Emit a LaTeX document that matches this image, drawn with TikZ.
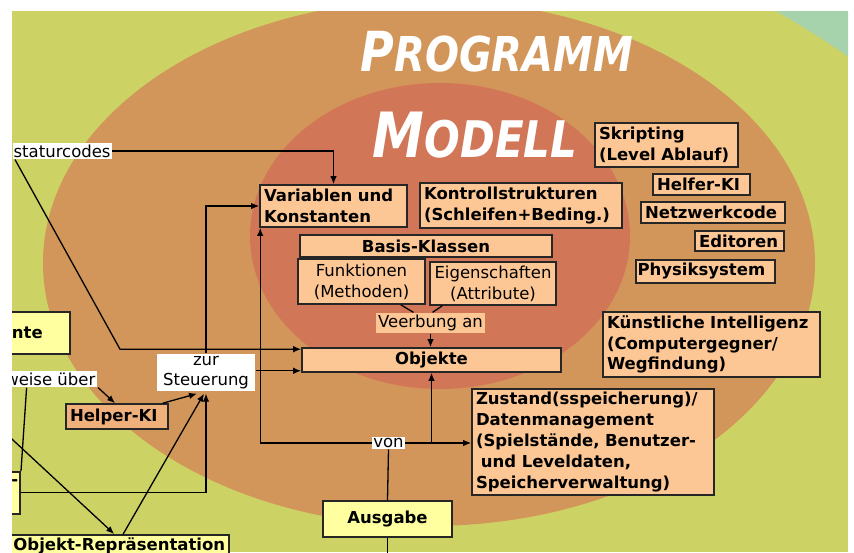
\documentclass[tikz,border=0pt]{standalone}
\usepackage{fontspec}
\setmainfont{DejaVu Sans}
\usetikzlibrary{arrows.meta}

\definecolor{wiese}{HTML}{CDD264}
\definecolor{tuerkis}{HTML}{A6D2AC}
\definecolor{programm}{HTML}{D3965A}
\definecolor{modell}{HTML}{D27658}
\definecolor{pfirsich}{HTML}{FCC795}
\definecolor{gelb}{HTML}{FFFFA0}
\definecolor{helper}{HTML}{F0B07C}

\begin{document}
\begin{tikzpicture}[->,>={Latex[length=8pt,width=6.5pt]},x=1pt,y=-1pt,line width=1.3pt]
    \tikzstyle{every node}=[font=\fontsize{16.5}{20.8}\selectfont]
    \tikzstyle{kasten}=[draw=black!85, line width=1.6pt, fill=pfirsich, font=\fontsize{16.5}{20.8}\selectfont\bfseries, align=left, inner xsep=4pt, inner ysep=2pt]
    \tikzstyle{klasse}=[kasten, font=\fontsize{16.5}{20.8}\selectfont, align=center]
    \tikzstyle{extern}=[kasten, fill=gelb]
    \tikzstyle{notiz}=[fill=white, inner xsep=2pt, inner ysep=1.5pt]
    \tikzstyle{titel}=[text=white, font=\bfseries\itshape]
    %\draw[help lines] (0,0) grid[step=50] (854,552);
    \useasboundingbox (0,0) rectangle (854,552);
    \fill[white] (0,0) rectangle (854,552);
    \begin{scope}
    \clip (12,11) rectangle (848,552);
    \fill[wiese] (12,11) rectangle (848,552);
    \fill[tuerkis] (776,11) .. controls (805,28) and (828,42) .. (850,58) -- (850,0) -- cycle;
    \fill[programm] (429,263) ellipse [x radius=386, y radius=263];
    \fill[modell] (440,236) ellipse [x radius=190, y radius=153];

    \node[titel] (prog) at (497,52) {\scalebox{1}[1.2]{\fontsize{46}{46}\selectfont P\fontsize{40}{40}\selectfont ROGRAMM}};
    \node[titel] (mod) at (475,135) {\scalebox{1}[1.2]{\fontsize{52}{52}\selectfont M\fontsize{42}{42}\selectfont ODELL}};

    % Modell
    \node[kasten, text width=139pt, minimum height=42pt] (var) at (333.5,206) {Variablen und\\Konstanten};
    \node[kasten, text width=194pt, minimum height=45pt] (kontr) at (521,205.5) {Kontrollstrukturen\\(Schleifen+Beding.)};
    \node[kasten, align=center, text width=244pt, minimum height=22pt] (basis) at (426,246) {Basis-Klassen};
    \node[klasse, text width=119pt, minimum height=45pt] (funk) at (361.5,281.5) {Funktionen\\(Methoden)};
    \node[klasse, text width=120pt, inner xsep=3pt, minimum height=43pt] (eig) at (493,283.5) {Eigenschaften\\(Attribute)};
    \node[fill=pfirsich, inner xsep=2pt, inner ysep=2pt] (veer) at (430.5,323) {Veerbung an};
    \node[kasten, align=center, text width=251pt, minimum height=24pt] (obj) at (431.5,360) {Objekte};

    % Programm
    \node[kasten, text width=135pt, minimum height=44pt] (skript) at (666.5,145) {Skripting\\(Level Ablauf)};
    \node[kasten, text width=89pt, minimum height=21pt] (helfer) at (701.5,184.5) {Helfer-KI};
    \node[kasten, text width=136pt, minimum height=21pt] (netz) at (713,212.5) {Netzwerkcode};
    \node[kasten, text width=81pt, minimum height=20pt] (edit) at (739.5,241) {Editoren};
    \node[kasten, text width=136pt, inner xsep=1.5pt, minimum height=23pt] (phys) at (705.5,271.5) {Physiksystem};
    \node[kasten, text width=209pt, minimum height=65pt] (ki) at (711.5,344.5) {Künstliche Intelligenz\\(Computergegner/\\Wegfindung)};
    \node[kasten, text width=234pt, minimum height=106pt] (zust) at (593,442) {Zustand(sspeicherung)/\\Datenmanagement\\(Spielstände, Benutzer-\\\hspace*{0.3em}und Leveldaten,\\Speicherverwaltung)};
    \node[kasten, fill=helper, text width=94pt, minimum height=25pt] (helper) at (117,416.5) {Helper-KI};

    % Aussen
    \node[extern, align=center, text width=121pt, minimum height=36pt] (ausg) at (387.5,519) {Ausgabe};
    \node[extern, text width=48pt, inner xsep=10pt, minimum height=42pt] (nte) at (36,333) {nte};
    \node[extern, anchor=north east, text height=12pt, text depth=26pt, inner xsep=2pt] (minus) at (21,471) {-};
    \node[extern, anchor=north east, align=right, text width=216pt, inner ysep=3pt] (obrep) at (230,534) {Objekt-Repräsentation};

    \node[notiz, anchor=west, inner xsep=1pt] (stat) at (12,151) {staturcodes};
    \node[notiz, align=center, minimum width=98pt, minimum height=37pt, inner sep=1pt] (zur) at (206,372.5) {zur\\Steuerung};
    \node[notiz, inner sep=1pt] (von) at (388.5,443) {von};
    \node[notiz, anchor=east] (weise) at (98,379) {weise über};

    \coordinate (knick) at (120,0);
    \coordinate (links) at (0,428);
    \coordinate (ausgunten) at (387.5,560);
    \path ([yshift=-2pt]obj.north west) coordinate (objoben);
    \path ([yshift=2pt]obj.south west) coordinate (objunten);

    \draw (stat.east) -| (var.north);
    \draw ([xshift=3pt]stat.south west) -- (knick |- objoben) -- (objoben);
    \draw (zur.north) |- (var.west);
    \draw (zur.east |- objunten) -- (objunten);
    \draw[-] ([xshift=-25pt]funk.south east) -- ([xshift=-17pt]veer.north);
    \draw[-] ([xshift=13pt]eig.south west) -- ([xshift=2pt]veer.north);
    \draw (veer.south) -- (veer.south |- obj.north);
    \draw (von.west) -| ([xshift=1pt]var.south west);
    \draw (von.east) -- (von.east -| zust.west);
    \draw (obj.south |- von.east) -- (obj.south);
    \draw[-] (ausg.north) -- (von.south);
    \draw[-] (ausg.south) -- (ausgunten);
    \draw (weise.south east) -- ([xshift=-2pt]helper.north);
    \draw[-] ([xshift=24pt]weise.south west) -- (minus.north east);
    \draw ([xshift=-6pt]helper.north east) -- ([xshift=-9pt,yshift=-2pt]zur.south);
    \draw (minus.east) -| ([yshift=-2pt]zur.south);
    \draw ([xshift=6pt]obrep.north) -- ([xshift=-2pt,yshift=-2pt]zur.south);
    \draw (links) -- ([xshift=-3pt]obrep.north);
    \end{scope}
\end{tikzpicture}
\end{document}
